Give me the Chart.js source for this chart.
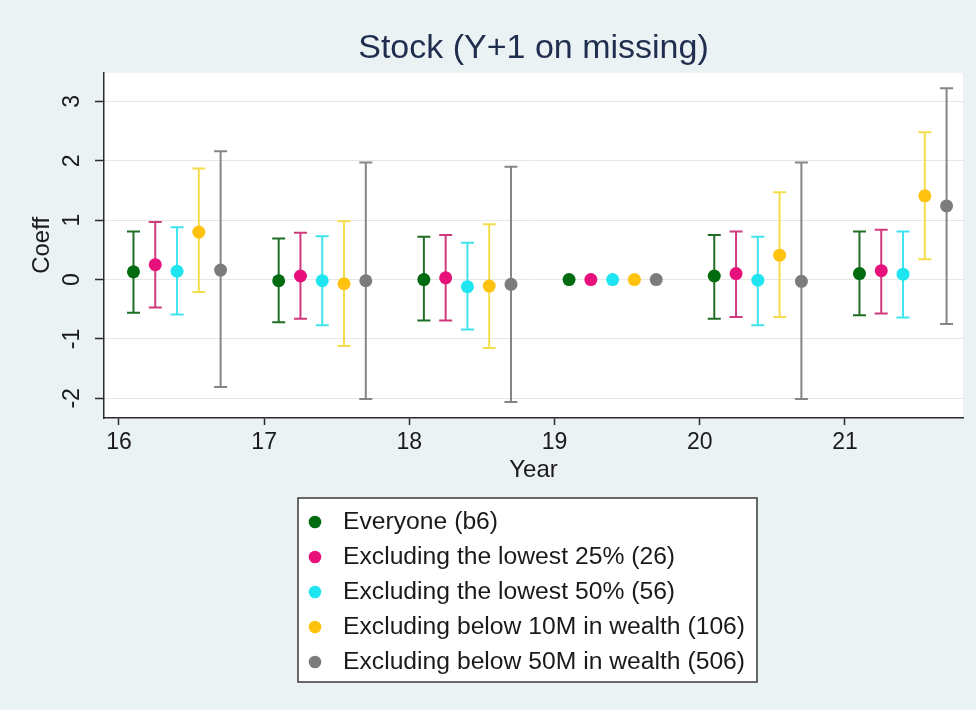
<!DOCTYPE html>
<html>
<head>
<meta charset="utf-8">
<script src="https://cdn.jsdelivr.net/npm/chart.js@4.4.1/dist/chart.umd.min.js"></script>
<style>
  html, body { margin: 0; padding: 0; background: #eaf2f3; }
  #wrap { width: 976px; height: 710px; }
</style>
</head>
<body>
<div id="wrap"><canvas id="c" width="976" height="710" style="width:976px;height:710px"></canvas></div>
<script>
// Event-study coefficients with 95% confidence intervals, by year
const years = [16, 17, 18, 19, 20, 21];
const yTicks = [-2, -1, 0, 1, 2, 3];
const seriesLabels = [
  'Everyone (b6)',
  'Excluding the lowest 25% (26)',
  'Excluding the lowest 50% (56)',
  'Excluding below 10M in wealth (106)',
  'Excluding below 50M in wealth (506)'
];

// year 19 is the omitted base year (no interval)
const coefEveryone = [0.13, -0.02, 0.00, 0, 0.06, 0.10];
const loEveryone   = [-0.56, -0.72, -0.69, null, -0.66, -0.60];
const hiEveryone   = [0.81, 0.69, 0.72, null, 0.75, 0.81];

const coefLow25 = [0.25, 0.06, 0.03, 0, 0.10, 0.15];
const loLow25   = [-0.47, -0.66, -0.69, null, -0.63, -0.57];
const hiLow25   = [0.97, 0.79, 0.75, null, 0.81, 0.84];

const coefLow50 = [0.14, -0.02, -0.12, 0, -0.01, 0.09];
const loLow50   = [-0.59, -0.77, -0.84, null, -0.77, -0.64];
const hiLow50   = [0.88, 0.73, 0.62, null, 0.72, 0.81];

const coef10M = [0.80, -0.07, -0.11, 0, 0.41, 1.41];
const lo10M   = [-0.21, -1.12, -1.15, null, -0.63, 0.34];
const hi10M   = [1.87, 0.98, 0.93, null, 1.47, 2.48];

const coef50M = [0.16, -0.02, -0.08, 0, -0.03, 1.24];
const lo50M   = [-1.81, -2.01, -2.06, null, -2.01, -0.75];
const hi50M   = [2.16, 1.97, 1.90, null, 1.97, 3.22];

const coefs = [coefEveryone, coefLow25, coefLow50, coef10M, coef50M];
const lows  = [loEveryone, loLow25, loLow50, lo10M, lo50M];
const highs = [hiEveryone, hiLow25, hiLow50, hi10M, hi50M];

// horizontal dodge of each series within a year
const dodge = [0.1, 0.25, 0.4, 0.55, 0.7];
const dotColors = ['#006b0f', '#e8117b', '#1fe5f0', '#ffc20e', '#7c7c7c'];
const barColors = ['#1f6e26', '#cf3a7d', '#3fe3ee', '#f4dc4a', '#858585'];

const FONT = '"Liberation Sans", Arial, Helvetica, sans-serif';
const INK = '#1a1a1a';

const pointSets = coefs.map((c, s) => ({
  type: 'scatter',
  label: seriesLabels[s],
  data: years.map((yr, i) => ({ x: yr + dodge[s], y: c[i] })),
  pointRadius: 6.5,
  pointBorderWidth: 0,
  pointBackgroundColor: dotColors[s],
  pointBorderColor: dotColors[s],
  showLine: false
}));

const barSets = coefs.map((c, s) => {
  const pts = [];
  years.forEach((yr, i) => {
    const x = yr + dodge[s];
    pts.push({ x, y: lows[s][i] }, { x, y: highs[s][i] }, { x, y: null });
  });
  return {
    type: 'scatter',
    label: seriesLabels[s] + ' CI',
    data: pts,
    showLine: true,
    spanGaps: false,
    borderColor: barColors[s],
    borderWidth: 2,
    pointStyle: 'line',
    pointRadius: 6.5,
    pointBorderWidth: 2,
    pointBorderColor: barColors[s],
    tension: 0
  };
});

const backdrop = {
  id: 'backdrop',
  beforeDraw(chart) {
    const { ctx, chartArea: a } = chart;
    ctx.save();
    ctx.fillStyle = '#eaf2f3';
    ctx.fillRect(0, 0, chart.width, chart.height);
    ctx.fillStyle = '#ffffff';
    ctx.fillRect(a.left, a.top, a.right - a.left, a.bottom - a.top);
    ctx.restore();
  }
};

// boxed legend under the plot, one entry per row
const boxedLegend = {
  id: 'boxedLegend',
  afterDraw(chart) {
    const { ctx } = chart;
    const bx = 298, by = 498, bw = 459, bh = 184;
    ctx.save();
    ctx.fillStyle = '#ffffff';
    ctx.fillRect(bx, by, bw, bh);
    ctx.strokeStyle = '#3a3a3a';
    ctx.lineWidth = 1.5;
    ctx.strokeRect(bx, by, bw, bh);
    ctx.font = '24.7px ' + FONT;
    ctx.textBaseline = 'middle';
    ctx.textAlign = 'left';
    pointSets.forEach((ds, i) => {
      const y = by + 24 + i * 35;
      ctx.beginPath();
      ctx.arc(bx + 17, y, 6.3, 0, Math.PI * 2);
      ctx.fillStyle = ds.pointBackgroundColor;
      ctx.fill();
      ctx.fillStyle = INK;
      ctx.fillText(ds.label, bx + 45, y);
    });
    ctx.restore();
  }
};

new Chart(document.getElementById('c'), {
  type: 'scatter',
  data: { datasets: [...pointSets, ...barSets] },
  options: {
    responsive: false,
    devicePixelRatio: 1,
    animation: false,
    events: [],
    layout: { padding: { top: 0, right: 13, bottom: 225, left: 0 } },
    plugins: {
      legend: { display: false },
      tooltip: { enabled: false },
      title: {
        display: true,
        fullSize: false,
        text: 'Stock (Y+1 on missing)',
        color: '#1f2d4e',
        font: { family: FONT, size: 34, weight: 'normal', lineHeight: 1.2 },
        padding: { top: 28, bottom: 4 }
      }
    },
    scales: {
      x: {
        type: 'linear',
        min: 15.897,
        max: 21.813,
        afterBuildTicks: s => { s.ticks = years.map(v => ({ value: v })); },
        afterFit: s => { s.height = 67; },
        ticks: {
          color: INK,
          font: { family: FONT, size: 23 },
          padding: 4,
          maxRotation: 0,
          autoSkip: false,
          callback: v => String(v)
        },
        grid: { drawOnChartArea: false, tickLength: 7, tickColor: '#2b2b2b', tickWidth: 1.5 },
        border: { color: '#2b2b2b', width: 1.5 },
        title: {
          display: true,
          text: 'Year',
          color: INK,
          font: { family: FONT, size: 24, lineHeight: 1.2 },
          padding: { top: 0, bottom: 0 }
        }
      },
      y: {
        type: 'linear',
        min: -2.33,
        max: 3.48,
        afterBuildTicks: s => { s.ticks = yTicks.map(v => ({ value: v })); },
        afterFit: s => { s.width = 104; },
        ticks: {
          color: INK,
          font: { family: FONT, size: 23 },
          minRotation: 90,
          maxRotation: 90,
          crossAlign: 'center',
          padding: 12,
          autoSkip: false,
          callback: v => String(v)
        },
        grid: { color: '#e6e6e6', lineWidth: 1, tickLength: 9, tickColor: '#2b2b2b', tickWidth: 1.5 },
        border: { color: '#2b2b2b', width: 1.5 },
        title: {
          display: true,
          text: 'Coeff',
          color: INK,
          font: { family: FONT, size: 24, lineHeight: 1.2 },
          padding: { top: 28, bottom: 0 }
        }
      }
    }
  },
  plugins: [backdrop, boxedLegend]
});
</script>
</body>
</html>
